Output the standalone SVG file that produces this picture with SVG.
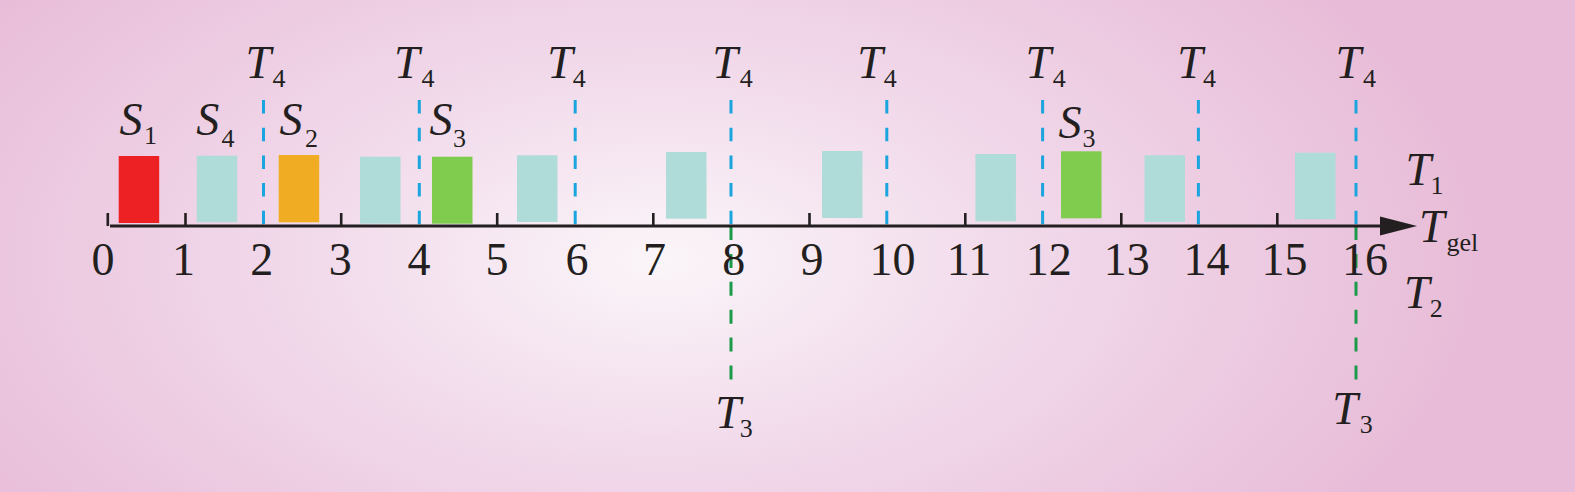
<svg xmlns="http://www.w3.org/2000/svg" width="1575" height="492" viewBox="0 0 1575 492">
<defs>
<radialGradient id="bg" gradientUnits="userSpaceOnUse" cx="660" cy="260" r="820" gradientTransform="translate(660 260) scale(1 0.55) translate(-660 -260)">
<stop offset="0" stop-color="#fbf5f9"/>
<stop offset="0.45" stop-color="#f1d9ea"/>
<stop offset="1" stop-color="#e8bcd8"/>
</radialGradient>
<style>
.t{font-family:"Liberation Serif","Times New Roman",serif;fill:#231f20}
.it{font-style:italic;font-size:46px}
.sub{font-size:26px}
.num{font-size:46px;text-anchor:middle}
.blue{stroke:#1ba5de;stroke-width:3;stroke-dasharray:13.5 14.2;fill:none}
.green{stroke:#1b9a4a;stroke-width:3;stroke-dasharray:14 13.9;fill:none}
.tick{stroke:#231f20;stroke-width:2.6}
.teal{fill:#afdcd8}
</style>
</defs>
<rect width="1575" height="492" fill="url(#bg)"/>
<g id="bars">
<rect x="118.7" y="156" width="40.5" height="67" fill="#ed2024"/>
<rect class="teal" x="196.7" y="155.7" width="40.5" height="66.5"/>
<rect x="278.7" y="155" width="40.5" height="67.3" fill="#f0ad24"/>
<rect class="teal" x="360" y="156.7" width="40.5" height="67"/>
<rect x="432" y="156.7" width="40.5" height="67" fill="#7fcc4f"/>
<rect class="teal" x="517" y="155.3" width="40.5" height="66.7"/>
<rect class="teal" x="666" y="152" width="40.5" height="66.7"/>
<rect class="teal" x="822" y="151" width="40.5" height="67"/>
<rect class="teal" x="975.4" y="154" width="40.5" height="67.3"/>
<rect x="1061" y="151.3" width="40.5" height="67" fill="#7fcc4f"/>
<rect class="teal" x="1144.5" y="155.3" width="40.5" height="66.7"/>
<rect class="teal" x="1295" y="152.7" width="40.5" height="66.6"/>
</g>
<g id="connectors">
<path class="blue" d="M263.5 100V226M419.3 100V226M575.2 100V226M731 100V226M886.8 100V226M1042.6 100V226M1198.4 100V226M1356 100V226"/>
<path class="green" d="M731 226V380M1356 226V380"/>
<line x1="110" y1="226" x2="1385" y2="226" stroke="#231f20" stroke-width="3"/>
<polygon points="1380,216.5 1417,226 1380,235.5" fill="#231f20"/>
<path class="tick" d="M107.8 213V226M185.5 213V226M341.2 213V226M497.2 213V226M653.3 213V226M809.5 213V226M965.3 213V226M1121.3 213V226M1277.3 213V226"/>
</g>
<g id="numbers" class="t num">
<text x="103" y="275">0</text>
<text x="183.5" y="275">1</text>
<text x="261.7" y="275">2</text>
<text x="340.3" y="275">3</text>
<text x="419" y="275">4</text>
<text x="497" y="275">5</text>
<text x="577" y="275">6</text>
<text x="654.5" y="275">7</text>
<text x="733.7" y="275">8</text>
<text x="812" y="275">9</text>
<text x="892.5" y="275">10</text>
<text x="969" y="275">11</text>
<text x="1048.8" y="275">12</text>
<text x="1126.8" y="275">13</text>
<text x="1206.5" y="275">14</text>
<text x="1284.6" y="275">15</text>
<text x="1365" y="275">16</text>
</g>
<g id="t4-labels" class="t">
<text y="77.5"><tspan class="it" x="245.6">T</tspan><tspan class="sub" x="272.5" y="86.7">4</tspan></text>
<text y="77.5"><tspan class="it" x="394">T</tspan><tspan class="sub" x="421.5" y="86.7">4</tspan></text>
<text y="77.5"><tspan class="it" x="547.3">T</tspan><tspan class="sub" x="572.8" y="86.7">4</tspan></text>
<text y="77.5"><tspan class="it" x="712.3">T</tspan><tspan class="sub" x="739.8" y="86.7">4</tspan></text>
<text y="77.5"><tspan class="it" x="857.3">T</tspan><tspan class="sub" x="883.8" y="86.7">4</tspan></text>
<text y="77.5"><tspan class="it" x="1025.6">T</tspan><tspan class="sub" x="1052.8" y="86.7">4</tspan></text>
<text y="77.5"><tspan class="it" x="1177.3">T</tspan><tspan class="sub" x="1203.1" y="86.7">4</tspan></text>
<text y="77.5"><tspan class="it" x="1335.6">T</tspan><tspan class="sub" x="1363.1" y="86.7">4</tspan></text>
</g>
<g id="s-labels" class="t">
<text y="134.5"><tspan class="it" x="119.5">S</tspan><tspan class="sub" x="144" y="144">1</tspan></text>
<text y="135"><tspan class="it" x="196.2">S</tspan><tspan class="sub" x="221.5" y="146.7">4</tspan></text>
<text y="135"><tspan class="it" x="279.5">S</tspan><tspan class="sub" x="305" y="146.7">2</tspan></text>
<text y="135"><tspan class="it" x="429.5">S</tspan><tspan class="sub" x="453" y="146.7">3</tspan></text>
<text y="137.5"><tspan class="it" x="1058.5">S</tspan><tspan class="sub" x="1082.5" y="147">3</tspan></text>
</g>
<g id="axis-labels" class="t">
<text y="185"><tspan class="it" x="1405.6">T</tspan><tspan class="sub" x="1430.5" y="194.3">1</tspan></text>
<text y="241.7"><tspan class="it" x="1419">T</tspan><tspan class="sub" x="1446.5" y="251">gel</tspan></text>
<text y="308.3"><tspan class="it" x="1404">T</tspan><tspan class="sub" x="1429.8" y="316.7">2</tspan></text>
<text y="428.3"><tspan class="it" x="715.3">T</tspan><tspan class="sub" x="739.8" y="436.7">3</tspan></text>
<text y="424"><tspan class="it" x="1332.3">T</tspan><tspan class="sub" x="1359.8" y="433.3">3</tspan></text>
</g>
</svg>
